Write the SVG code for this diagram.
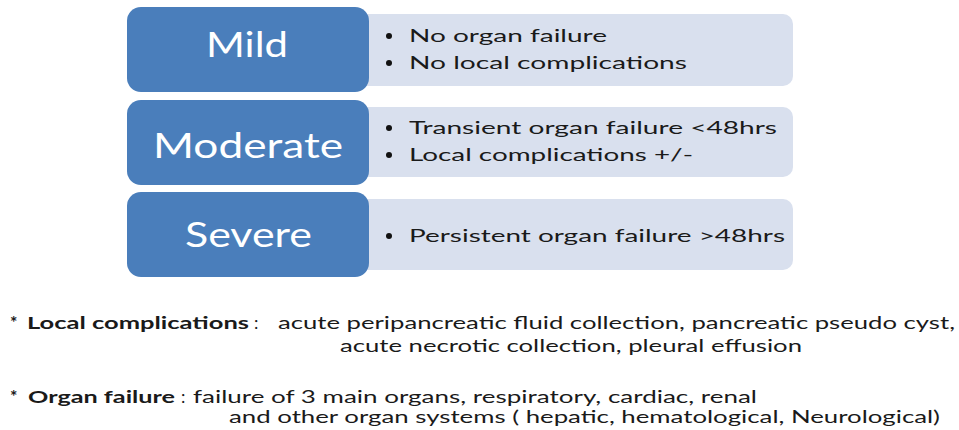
<svg xmlns="http://www.w3.org/2000/svg" width="959" height="430" viewBox="0 0 959 430">
<defs>
<style>
.blue{fill:#4a7ebb;}
.light{fill:#d9e0ee;}
.lbl{font-family:Lato,"Open Sans","Liberation Sans",sans-serif;font-size:35px;fill:#ffffff;}
.bt{font-family:Lato,"Open Sans","Liberation Sans",sans-serif;font-size:18px;fill:#1a1a1a;}
.note{font-family:Lato,"Open Sans","Liberation Sans",sans-serif;font-size:17.5px;fill:#1a1a1a;}
.b{font-weight:bold;}
.dot{fill:#111;}
</style>
</defs>
<rect width="959" height="430" fill="#ffffff"/>
<g id="mild">
<rect class="light" x="350" y="14" width="443" height="72" rx="10"/>
<rect class="blue" x="127" y="7" width="242" height="85" rx="14"/>
<text class="lbl" x="206" y="57" textLength="82" lengthAdjust="spacingAndGlyphs">Mild</text>
<circle class="dot" cx="389" cy="36" r="3"/>
<text class="bt" x="409" y="42" textLength="198" lengthAdjust="spacingAndGlyphs">No organ failure</text>
<circle class="dot" cx="389" cy="63" r="3"/>
<text class="bt" x="409" y="69" textLength="278" lengthAdjust="spacingAndGlyphs">No local complications</text>
</g>
<g id="moderate">
<rect class="light" x="350" y="107" width="443" height="70" rx="10"/>
<rect class="blue" x="127" y="100" width="242" height="85" rx="14"/>
<text class="lbl" x="153" y="158" textLength="190" lengthAdjust="spacingAndGlyphs">Moderate</text>
<circle class="dot" cx="389" cy="128" r="3"/>
<text class="bt" x="409" y="134" textLength="368" lengthAdjust="spacingAndGlyphs">Transient organ failure &lt;48hrs</text>
<circle class="dot" cx="389" cy="155" r="3"/>
<text class="bt" x="409" y="161" textLength="284" lengthAdjust="spacingAndGlyphs">Local complications +/-</text>
</g>
<g id="severe">
<rect class="light" x="350" y="199" width="443" height="71" rx="10"/>
<rect class="blue" x="127" y="192" width="242" height="85" rx="14"/>
<text class="lbl" x="185" y="247" textLength="127" lengthAdjust="spacingAndGlyphs">Severe</text>
<circle class="dot" cx="389" cy="236" r="3"/>
<text class="bt" x="409" y="242" textLength="376" lengthAdjust="spacingAndGlyphs">Persistent organ failure &gt;48hrs</text>
</g>
<g id="notes">
<text class="note b" x="10" y="329">*</text>
<text class="note b" x="27" y="329" textLength="222" lengthAdjust="spacingAndGlyphs">Local complications</text>
<text class="note" x="254" y="329">:</text>
<text class="note" x="278" y="329" textLength="677" lengthAdjust="spacingAndGlyphs">acute peripancreatic fluid collection, pancreatic pseudo cyst,</text>
<text class="note" x="340" y="352" textLength="462" lengthAdjust="spacingAndGlyphs">acute necrotic collection, pleural effusion</text>
<text class="note b" x="10" y="403">*</text>
<text class="note b" x="28" y="403" textLength="147" lengthAdjust="spacingAndGlyphs">Organ failure</text>
<text class="note" x="181" y="403">:</text>
<text class="note" x="193" y="403" textLength="564" lengthAdjust="spacingAndGlyphs">failure of 3 main organs, respiratory, cardiac, renal</text>
<text class="note" x="229" y="423" textLength="711" lengthAdjust="spacingAndGlyphs">and other organ systems ( hepatic, hematological, Neurological)</text>
</g>
</svg>
